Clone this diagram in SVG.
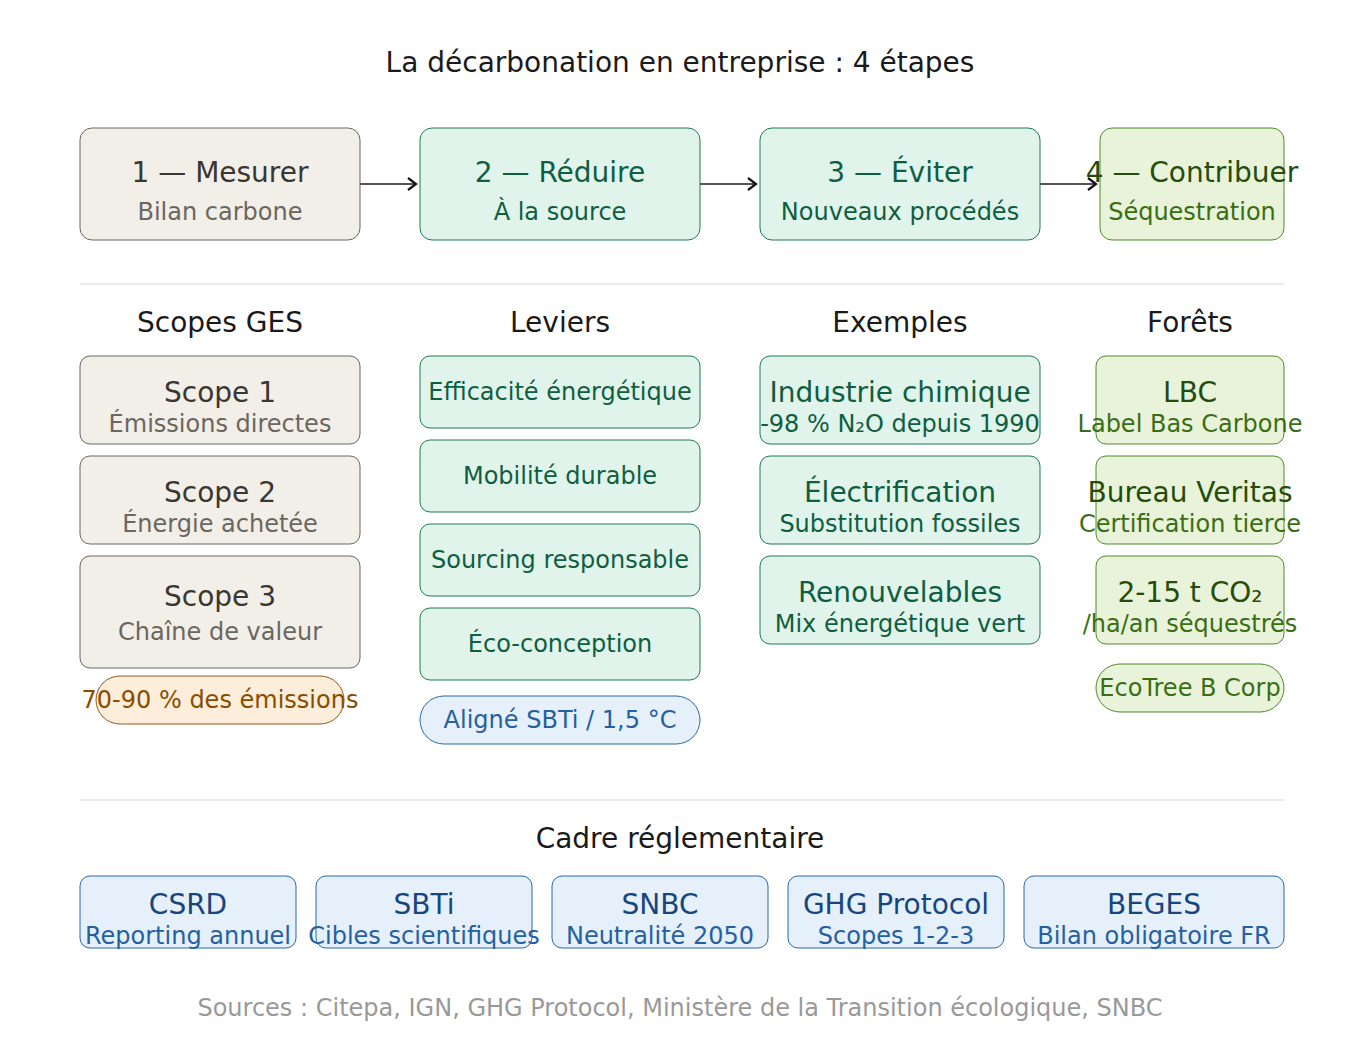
<svg xmlns="http://www.w3.org/2000/svg" width="1360" height="1040" viewBox="0 0 1360 1040">
<style>
text{font-family:"DejaVu Sans",sans-serif;text-anchor:middle;dominant-baseline:central}
.h{font-size:28px;fill:#1a1a1a}
.t{font-size:28px}.s{font-size:24px}
.b rect{fill:#f2efe8;stroke:#6b6660;stroke-width:1}.b .t{fill:#3a3630}.b .s{fill:#6b6660}
.g rect{fill:#e0f4ec;stroke:#1f7a55;stroke-width:1}.g text{fill:#0f5e40}
.l rect{fill:#e8f3da;stroke:#4e8a2c;stroke-width:1}.l .t{fill:#244d0c}.l .s{fill:#3a6e14}
.u rect{fill:#e6f0fb;stroke:#2b68a8;stroke-width:1}.u .t{fill:#17467e}.u .s{fill:#2560a0}
.o rect{fill:#fdeedb;stroke:#95591c;stroke-width:1}.o text{fill:#8a4d00}
.sep{stroke:#e6e6e6;stroke-width:1.5}
</style>
<defs><marker id="a" markerWidth="14" markerHeight="14" refX="11" refY="7" orient="auto" markerUnits="userSpaceOnUse"><path d="M3,1 L11,7 L3,13" fill="none" stroke="#111" stroke-width="2.2"/></marker></defs>
<text class="h" x="680" y="62">La décarbonation en entreprise : 4 étapes</text>
<g id="s1" class="b"><rect x="80" y="128" width="280" height="112" rx="12"/><text class="t" x="220" y="172">1 — Mesurer</text><text class="s" x="220" y="212">Bilan carbone</text></g>
<g id="s2" class="g"><rect x="420" y="128" width="280" height="112" rx="12"/><text class="t" x="560" y="172">2 — Réduire</text><text class="s" x="560" y="212">À la source</text></g>
<g id="s3" class="g"><rect x="760" y="128" width="280" height="112" rx="12"/><text class="t" x="900" y="172">3 — Éviter</text><text class="s" x="900" y="212">Nouveaux procédés</text></g>
<g id="s4" class="l"><rect x="1100" y="128" width="184" height="112" rx="12"/><text class="t" x="1192" y="172">4 — Contribuer</text><text class="s" x="1192" y="212">Séquestration</text></g>
<g id="connectors" stroke="#555" stroke-width="2" fill="none">
<line x1="360" y1="184" x2="416" y2="184" marker-end="url(#a)"/>
<line x1="700" y1="184" x2="756" y2="184" marker-end="url(#a)"/>
<line x1="1040" y1="184" x2="1096" y2="184" marker-end="url(#a)"/>
</g>
<line class="sep" x1="80" y1="284" x2="1284" y2="284"/>
<text class="h" x="220" y="322">Scopes GES</text>
<text class="h" x="560" y="322">Leviers</text>
<text class="h" x="900" y="322">Exemples</text>
<text class="h" x="1190" y="322">Forêts</text>
<g id="sc1" class="b"><rect x="80" y="356" width="280" height="88" rx="10"/><text class="t" x="220" y="392">Scope 1</text><text class="s" x="220" y="424">Émissions directes</text></g>
<g id="sc2" class="b"><rect x="80" y="456" width="280" height="88" rx="10"/><text class="t" x="220" y="492">Scope 2</text><text class="s" x="220" y="524">Énergie achetée</text></g>
<g id="sc3" class="b"><rect x="80" y="556" width="280" height="112" rx="10"/><text class="t" x="220" y="596">Scope 3</text><text class="s" x="220" y="632">Chaîne de valeur</text></g>
<g id="pct" class="o"><rect x="96" y="676" width="248" height="48" rx="24"/><text class="s" x="220" y="700">70-90 % des émissions</text></g>
<g id="lv1" class="g"><rect x="420" y="356" width="280" height="72" rx="10"/><text class="s" x="560" y="392">Efficacité énergétique</text></g>
<g id="lv2" class="g"><rect x="420" y="440" width="280" height="72" rx="10"/><text class="s" x="560" y="476">Mobilité durable</text></g>
<g id="lv3" class="g"><rect x="420" y="524" width="280" height="72" rx="10"/><text class="s" x="560" y="560">Sourcing responsable</text></g>
<g id="lv4" class="g"><rect x="420" y="608" width="280" height="72" rx="10"/><text class="s" x="560" y="644">Éco-conception</text></g>
<g id="sbti" class="u"><rect x="420" y="696" width="280" height="48" rx="24"/><text class="s" x="560" y="720" style="fill:#2560a0">Aligné SBTi / 1,5 °C</text></g>
<g id="ex1" class="g"><rect x="760" y="356" width="280" height="88" rx="10"/><text class="t" x="900" y="392">Industrie chimique</text><text class="s" x="900" y="424">-98 % N₂O depuis 1990</text></g>
<g id="ex2" class="g"><rect x="760" y="456" width="280" height="88" rx="10"/><text class="t" x="900" y="492">Électrification</text><text class="s" x="900" y="524">Substitution fossiles</text></g>
<g id="ex3" class="g"><rect x="760" y="556" width="280" height="88" rx="10"/><text class="t" x="900" y="592">Renouvelables</text><text class="s" x="900" y="624">Mix énergétique vert</text></g>
<g id="f1" class="l"><rect x="1096" y="356" width="188" height="88" rx="10"/><text class="t" x="1190" y="392">LBC</text><text class="s" x="1190" y="424">Label Bas Carbone</text></g>
<g id="f2" class="l"><rect x="1096" y="456" width="188" height="88" rx="10"/><text class="t" x="1190" y="492">Bureau Veritas</text><text class="s" x="1190" y="524">Certification tierce</text></g>
<g id="f3" class="l"><rect x="1096" y="556" width="188" height="88" rx="10"/><text class="t" x="1190" y="592">2-15 t CO₂</text><text class="s" x="1190" y="624">/ha/an séquestrés</text></g>
<g id="f4" class="l"><rect x="1096" y="664" width="188" height="48" rx="24"/><text class="s" x="1190" y="688">EcoTree B Corp</text></g>
<line class="sep" x1="80" y1="800" x2="1284" y2="800"/>
<text class="h" x="680" y="838">Cadre réglementaire</text>
<g id="r1" class="u"><rect x="80" y="876" width="216" height="72" rx="10"/><text class="t" x="188" y="904">CSRD</text><text class="s" x="188" y="936">Reporting annuel</text></g>
<g id="r2" class="u"><rect x="316" y="876" width="216" height="72" rx="10"/><text class="t" x="424" y="904">SBTi</text><text class="s" x="424" y="936">Cibles scientifiques</text></g>
<g id="r3" class="u"><rect x="552" y="876" width="216" height="72" rx="10"/><text class="t" x="660" y="904">SNBC</text><text class="s" x="660" y="936">Neutralité 2050</text></g>
<g id="r4" class="u"><rect x="788" y="876" width="216" height="72" rx="10"/><text class="t" x="896" y="904">GHG Protocol</text><text class="s" x="896" y="936">Scopes 1-2-3</text></g>
<g id="r5" class="u"><rect x="1024" y="876" width="260" height="72" rx="10"/><text class="t" x="1154" y="904">BEGES</text><text class="s" x="1154" y="936">Bilan obligatoire FR</text></g>
<text x="680" y="1008" style="font-size:24px;fill:#999">Sources : Citepa, IGN, GHG Protocol, Ministère de la Transition écologique, SNBC</text>
</svg>
